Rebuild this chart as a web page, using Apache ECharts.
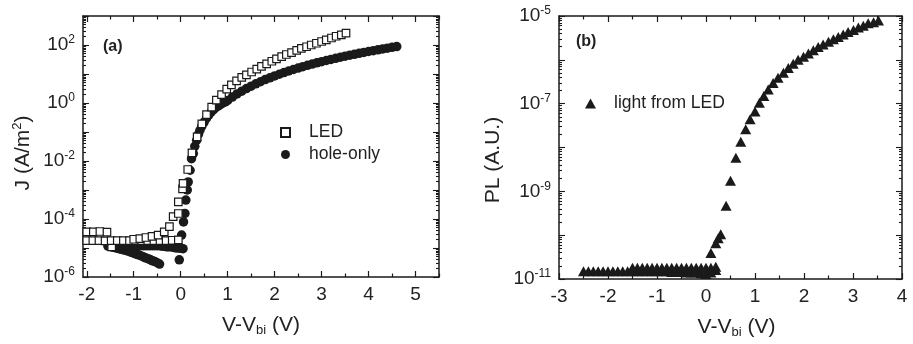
<!DOCTYPE html>
<html>
<head>
<meta charset="utf-8">
<script src="https://cdn.jsdelivr.net/npm/echarts@6/dist/echarts.min.js"></script>
<style>
  html, body { margin: 0; padding: 0; background: #fff; }
  #chart { width: 913px; height: 344px; }
</style>
</head>
<body>
<div id="chart"></div>
<script>
// ---- panel (a): current density of LED and hole-only device ----
var ledV = [-2.0, -1.86, -1.72, -1.57, -1.47,
  -2.0, -1.87, -1.74, -1.61, -1.48, -1.35, -1.22, -1.09, -0.96, -0.83, -0.70, -0.57, -0.44, -0.31, -0.18, -0.05,
  -1.0, -0.87, -0.74, -0.61, -0.48, -0.35, -0.24, -0.16, -0.05, -0.05, 0.04, 0.05, 0.15, 0.24,
  0.35, 0.45, 0.55, 0.66, 0.76, 0.87, 0.98, 1.08, 1.19, 1.30, 1.40, 1.51, 1.62, 1.72, 1.83, 1.94,
  2.04, 2.15, 2.25, 2.36, 2.47, 2.57, 2.68, 2.78, 2.89, 3.00, 3.10, 3.21, 3.31, 3.42, 3.52];
var ledJ = [3.6e-5, 3.6e-5, 3.7e-5, 3.5e-5, 1.1e-5,
  1.8e-5, 1.8e-5, 1.8e-5, 1.75e-5, 1.8e-5, 1.8e-5, 1.8e-5, 1.8e-5, 1.8e-5, 1.8e-5, 1.8e-5, 1.8e-5, 1.8e-5, 1.8e-5, 1.85e-5, 1.9e-5,
  2.0e-5, 2.1e-5, 2.3e-5, 2.5e-5, 2.8e-5, 3.6e-5, 5.5e-5, 1.2e-4, 1.55e-4, 3.9e-4, 1.1e-3, 1.7e-3, 5.1e-3, 1.9e-2,
  6.8e-2, 0.19, 0.40, 0.72, 1.26, 1.95, 3.0, 4.2, 5.8, 7.6, 9.3, 11.7, 14.8, 18.2, 22.4, 27.5,
  33, 40, 47, 55, 65, 76, 87, 100, 115, 132, 151, 174, 200, 224, 257];

var holeV = [-1.55, -1.5, -1.45, -1.4, -1.35, -1.3, -1.25, -1.2, -1.15, -1.1, -1.05, -1.0, -0.95, -0.9,
  -0.85, -0.8, -0.75, -0.7, -0.65, -0.6, -0.55, -0.5, -0.45,
  -1.5, -1.45, -1.4, -1.35, -1.3, -1.25, -1.2, -1.15, -1.1, -1.05, -1.0, -0.95, -0.9, -0.85, -0.8, -0.75,
  -0.7, -0.65, -0.6, -0.55, -0.5, -0.45, -0.4, -0.35, -0.3, -0.25, -0.2, -0.15, -0.1, -0.05, 0.0, 0.05,
  -0.03, 0.0, 0.02, 0.06, 0.09, 0.11, 0.14, 0.16, 0.2, 0.23, 0.27, 0.3, 0.34, 0.38, 0.41, 0.45, 0.5,
  0.55, 0.6, 0.65, 0.7, 0.75, 0.8, 0.85, 0.9, 0.95,
  1.0, 1.1, 1.2, 1.3, 1.4, 1.5, 1.6, 1.7, 1.8, 1.9, 2.0, 2.1, 2.2, 2.3, 2.4, 2.5, 2.6, 2.7, 2.8, 2.9,
  3.0, 3.1, 3.2, 3.3, 3.4, 3.5, 3.6, 3.7, 3.8, 3.9, 4.0, 4.1, 4.2, 4.3, 4.4, 4.5, 4.6];
var holeJ = [1.17e-5, 1.12e-5, 1.07e-5, 1.02e-5, 9.8e-6, 9.3e-6, 8.9e-6, 8.5e-6, 8.1e-6, 7.6e-6, 7.1e-6, 6.6e-6, 6.2e-6, 5.8e-6,
  5.4e-6, 5.0e-6, 4.6e-6, 4.3e-6, 4.0e-6, 3.6e-6, 3.4e-6, 3.1e-6, 2.8e-6,
  1.15e-5, 1.15e-5, 1.2e-5, 1.2e-5, 1.2e-5, 1.2e-5, 1.2e-5, 1.2e-5, 1.2e-5, 1.2e-5, 1.2e-5, 1.2e-5, 1.2e-5, 1.2e-5, 1.2e-5, 1.2e-5,
  1.2e-5, 1.2e-5, 1.2e-5, 1.2e-5, 1.2e-5, 1.2e-5, 1.15e-5, 1.15e-5, 1.1e-5, 1.1e-5, 1.1e-5, 1.05e-5, 1.0e-5, 1.0e-5, 9.8e-6, 9.5e-6,
  3.9e-6, 1.0e-5, 2.8e-5, 7.9e-5, 1.55e-4, 4.5e-4, 1.0e-3, 1.9e-3, 4.8e-3, 1.2e-2, 1.8e-2, 3.2e-2, 5.2e-2, 8.5e-2, 0.115, 0.16, 0.22,
  0.30, 0.39, 0.49, 0.59, 0.70, 0.80, 0.90, 1.0, 1.1,
  1.23, 1.6, 2.05, 2.55, 3.15, 3.8, 4.6, 5.4, 6.4, 7.4, 8.6, 9.8, 11.2, 12.7, 14.3, 16, 17.9, 19.9, 22, 24.2,
  26.7, 29.2, 31.9, 34.8, 37.8, 41, 44.4, 47.9, 51.7, 55.6, 59.7, 63.9, 68.4, 73.1, 77.9, 83, 88];

// ---- panel (b): light output of the LED ----
var plV = [-2.5, -2.4, -2.3, -2.2, -2.1, -2.0, -1.9, -1.8, -1.7, -1.6, -1.5, -1.4, -1.3, -1.2, -1.1, -1.0,
  -0.9, -0.8, -0.7, -0.6, -0.5, -0.4, -0.3, -0.2, -0.1, 0.0, 0.1, 0.2,
  -1.5, -1.4, -1.3, -1.2, -1.1, -1.0, -0.9, -0.8, -0.7, -0.6, -0.5, -0.4, -0.3, -0.2, -0.1, 0.0, 0.1, 0.2,
  0.1, 0.2, 0.25, 0.3, 0.41, 0.5, 0.61, 0.71, 0.81, 0.9, 1.0,
  1.09, 1.18, 1.27, 1.37, 1.47, 1.58, 1.68, 1.78, 1.88, 1.99, 2.09, 2.19, 2.29, 2.39, 2.50, 2.60, 2.70,
  2.80, 2.90, 3.01, 3.11, 3.21, 3.31, 3.42, 3.52];
var plPL = [1.5e-11, 1.5e-11, 1.5e-11, 1.5e-11, 1.5e-11, 1.5e-11, 1.5e-11, 1.5e-11, 1.5e-11, 1.5e-11, 1.5e-11, 1.5e-11,
  1.5e-11, 1.5e-11, 1.5e-11, 1.5e-11, 1.5e-11, 1.5e-11, 1.45e-11, 1.45e-11, 1.45e-11, 1.4e-11, 1.4e-11, 1.4e-11,
  1.35e-11, 1.3e-11, 1.4e-11, 1.6e-11,
  1.8e-11, 1.8e-11, 1.8e-11, 1.8e-11, 1.8e-11, 1.8e-11, 1.8e-11, 1.8e-11, 1.8e-11, 1.8e-11, 1.8e-11, 1.8e-11,
  1.8e-11, 1.8e-11, 1.8e-11, 1.8e-11, 1.8e-11, 1.9e-11,
  3.9e-11, 6.5e-11, 8.5e-11, 1.05e-10, 4.7e-10, 1.74e-9, 5.8e-9, 1.35e-8, 2.6e-8, 4.4e-8, 6.6e-8,
  1.05e-7, 1.5e-7, 2.1e-7, 2.95e-7, 3.9e-7, 5.1e-7, 6.5e-7, 8.1e-7, 1.0e-6, 1.17e-6, 1.4e-6, 1.66e-6, 1.95e-6,
  2.24e-6, 2.57e-6, 2.95e-6, 3.3e-6, 3.8e-6, 4.3e-6, 4.8e-6, 5.5e-6, 6.0e-6, 6.8e-6, 7.2e-6, 7.9e-6];

// ---- tick labels ----
var xTicksA = [-2, -1, 0, 1, 2, 3, 4, 5];
var xTicksB = [-3, -2, -1, 0, 1, 2, 3, 4];
var yLabelsA = [1e-6, 1e-4, 1e-2, 1, 1e2];
var yLabelsB = [1e-11, 1e-9, 1e-7, 1e-5];

var FONT = 'Liberation Sans';
var INK = '#1a1a1a';
var TXT = '#222';

function pairs(xs, ys) {
  return xs.map(function (x, i) { return [x, ys[i]]; });
}

function halfSteps(ticks) {
  var out = [];
  for (var i = 0; i < ticks.length; i++) out.push(ticks[i] + 0.5);
  out.unshift(ticks[0] - 0.5);
  return out;
}

function decades(lo, hi) {
  var out = [];
  for (var e = lo; e <= hi; e++) out.push(Math.pow(10, e));
  return out;
}

function logMinors(lo, hi) {
  var out = [];
  for (var e = lo; e < hi; e++) {
    for (var k = 2; k <= 9; k++) out.push(k * Math.pow(10, e));
  }
  return out;
}

var richLabel = {
  b: { fontSize: 19, fontFamily: FONT, color: TXT, lineHeight: 22 },
  s: { fontSize: 12, fontFamily: FONT, color: TXT, lineHeight: 12, verticalAlign: 'top' }
};

function powerLabel(value) {
  var e = Math.round(Math.log10(value));
  return '{b|10}{s|' + e + '}';
}

var nameRich = {
  a: { fontSize: 21, fontFamily: FONT, color: TXT, lineHeight: 24 },
  b: { fontSize: 13, fontFamily: FONT, color: TXT, lineHeight: 6, verticalAlign: 'bottom', padding: [10, 0, 0, 0] },
  s: { fontSize: 13, fontFamily: FONT, color: TXT, lineHeight: 12, verticalAlign: 'top' }
};

/** four x axes per grid: bottom/top, major/minor */
function buildXAxes(grid, min, max, ticks, nameShift) {
  var minors = halfSteps(ticks);
  var base = {
    gridIndex: grid, type: 'value', min: min, max: max,
    splitLine: { show: false },
    axisLine: { show: false, onZero: false },
    axisLabel: { show: false }
  };
  var line = { show: true, onZero: false, lineStyle: { color: INK, width: 1.5 } };
  var tick = function (len, vals) {
    return { show: true, inside: true, length: len, customValues: vals, lineStyle: { color: INK, width: 1.2 } };
  };
  return [
    Object.assign({}, base, {
      position: 'bottom', axisLine: line, axisTick: tick(6, ticks),
      axisLabel: { show: true, customValues: ticks, margin: 8, fontSize: 19, fontFamily: FONT, color: TXT },
      name: '{a|V-V}{b|bi}{a| (V)}', nameLocation: 'middle', nameGap: 36,
      nameTextStyle: { rich: nameRich, padding: [0, 0, 0, nameShift] }
    }),
    Object.assign({}, base, { position: 'bottom', axisTick: tick(3.5, minors) }),
    Object.assign({}, base, { position: 'top', axisLine: line, axisTick: tick(6, ticks) }),
    Object.assign({}, base, { position: 'top', axisTick: tick(3.5, minors) })
  ];
}

/** four log y axes per grid: left/right, decade/minor */
function buildYAxes(grid, lo, hi, labels, name, nameGap, nameShift) {
  var major = decades(lo, hi);
  var minor = logMinors(lo, hi);
  var base = {
    gridIndex: grid, type: 'log', logBase: 10, min: Math.pow(10, lo), max: Math.pow(10, hi),
    splitLine: { show: false },
    axisLine: { show: false, onZero: false },
    axisLabel: { show: false }
  };
  var line = { show: true, onZero: false, lineStyle: { color: INK, width: 1.5 } };
  var tick = function (len, vals) {
    return { show: true, inside: true, length: len, customValues: vals, lineStyle: { color: INK, width: 1.1 } };
  };
  return [
    Object.assign({}, base, {
      position: 'left', axisLine: line, axisTick: tick(6, major),
      axisLabel: { show: true, customValues: labels, margin: 8, formatter: powerLabel, rich: richLabel },
      name: name, nameLocation: 'middle', nameGap: nameGap,
      nameTextStyle: { rich: nameRich, padding: [0, nameShift, 0, 0] }
    }),
    Object.assign({}, base, { position: 'left', axisTick: tick(3, minor) }),
    Object.assign({}, base, { position: 'right', axisLine: line, axisTick: tick(6, major) }),
    Object.assign({}, base, { position: 'right', axisTick: tick(3, minor) })
  ];
}

var chart = echarts.init(document.getElementById('chart'), null, { renderer: 'canvas' });

var option = {
  animation: false,
  backgroundColor: '#fff',
  textStyle: { fontFamily: FONT },
  grid: [
    { left: 83, top: 16, width: 356, height: 261 },
    { left: 559, top: 16, width: 343, height: 265 }
  ],
  title: [
    { text: '(a)', left: 103, top: 39, padding: 0, textStyle: { fontSize: 16, fontWeight: 'bold', color: TXT, fontFamily: FONT } },
    { text: '(b)', left: 576, top: 34, padding: 0, textStyle: { fontSize: 16, fontWeight: 'bold', color: TXT, fontFamily: FONT } }
  ],
  legend: [
    {
      data: ['LED', 'hole-only'], orient: 'vertical', left: 280, top: 123, padding: 0,
      itemWidth: 9, itemHeight: 9, itemGap: 3,
      textStyle: { fontSize: 17.5, color: TXT, fontFamily: FONT, lineHeight: 19, padding: [0, 0, 0, 14] }
    },
    {
      data: ['light from LED'], left: 585, top: 94, padding: 0,
      itemWidth: 11, itemHeight: 10,
      textStyle: { fontSize: 17.5, color: TXT, fontFamily: FONT, lineHeight: 19, padding: [0, 0, 0, 13] }
    }
  ],
  xAxis: buildXAxes(0, -2.08, 5.5, xTicksA, 0).concat(buildXAxes(1, -3, 4, xTicksB, 12)),
  yAxis: buildYAxes(0, -6, 3, yLabelsA, '{a|J (A/m}{s|2}{a|)}', 48, 13)
    .concat(buildYAxes(1, -11, -5, yLabelsB, '{a|PL (A.U.)}', 54, 25)),
  series: [
    {
      name: 'hole-only', type: 'scatter', xAxisIndex: 0, yAxisIndex: 0,
      symbol: 'circle', symbolSize: 9.5,
      itemStyle: { color: INK, opacity: 1 },
      data: pairs(holeV, holeJ)
    },
    {
      name: 'LED', type: 'scatter', xAxisIndex: 0, yAxisIndex: 0,
      symbol: 'rect', symbolSize: 7.5,
      itemStyle: { color: '#fff', borderColor: INK, borderWidth: 1.2, opacity: 1 },
      data: pairs(ledV, ledJ)
    },
    {
      name: 'light from LED', type: 'scatter', xAxisIndex: 4, yAxisIndex: 4,
      symbol: 'triangle', symbolSize: [11, 10],
      itemStyle: { color: INK, opacity: 1 },
      data: pairs(plV, plPL)
    }
  ]
};

chart.setOption(option);
</script>
</body>
</html>
